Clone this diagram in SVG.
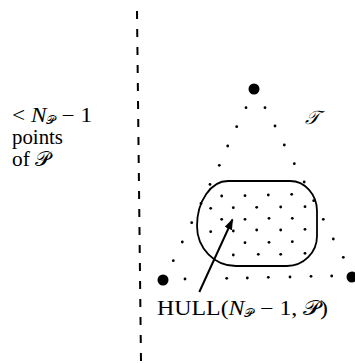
<svg xmlns="http://www.w3.org/2000/svg" width="355" height="364" viewBox="0 0 355 364">
<style>
text{font-family:"Liberation Serif","DejaVu Serif","DejaVu Sans",serif;fill:#000}
.lbl{font-size:20px}
.it{font-style:italic}
.sub{font-size:11px}
.big{fill:#000}
.sd{fill:#000}
.hull{fill:none;stroke:#000;stroke-width:1.8}
.con{stroke:#000;stroke-width:2;fill:none}
</style>
<defs>
<marker id="ah" markerWidth="11" markerHeight="8" refX="10" refY="4" orient="auto" markerUnits="userSpaceOnUse">
<path d="M0,0 L11,4 L0,8 Z" fill="#000"/>
</marker>
<g id="d"><circle r="1.4" class="sd"/></g>
</defs>
<rect width="355" height="364" fill="#fff"/>
<g id="divider">
<line x1="137" y1="11" x2="141" y2="362" stroke="#000" stroke-width="2" stroke-dasharray="8 10"/>
</g>
<g id="left-label">
<text class="lbl" x="12" y="121.5" textLength="80" lengthAdjust="spacingAndGlyphs">&lt; <tspan class="it">N</tspan><tspan class="sub" dy="2">𝒫</tspan><tspan dy="-2"> − 1</tspan></text>
<text class="lbl" x="12" y="144" textLength="51" lengthAdjust="spacingAndGlyphs">points</text>
<text class="lbl" x="12" y="165.5" textLength="38" lengthAdjust="spacingAndGlyphs">of 𝒫</text>
</g>
<g id="triangle">
<circle class="big" cx="254" cy="89" r="5.5"/>
<circle class="big" cx="163" cy="280" r="5.5"/>
<circle class="big" cx="352" cy="277" r="5.5"/>
<g id="edge-dots">
<use href="#d" x="246" y="107.7"/><use href="#d" x="236.7" y="126.7"/><use href="#d" x="227.7" y="146"/><use href="#d" x="219.3" y="165.3"/><use href="#d" x="210" y="184.4"/><use href="#d" x="201" y="203.5"/><use href="#d" x="191.7" y="222.7"/><use href="#d" x="182.3" y="242"/><use href="#d" x="173.3" y="260.7"/>
<use href="#d" x="265" y="107.7"/><use href="#d" x="275" y="126"/><use href="#d" x="284.3" y="145"/><use href="#d" x="294.3" y="163.7"/><use href="#d" x="304.2" y="182"/><use href="#d" x="313.7" y="200.7"/><use href="#d" x="323.3" y="219.3"/><use href="#d" x="333.3" y="239"/><use href="#d" x="343.3" y="257.3"/>
<use href="#d" x="185" y="279"/><use href="#d" x="226.7" y="278.3"/><use href="#d" x="247.3" y="278"/><use href="#d" x="268.3" y="277.3"/><use href="#d" x="290" y="277"/><use href="#d" x="311" y="276.3"/><use href="#d" x="331.7" y="276"/>
</g>
<text class="it" x="305" y="124" font-size="19">𝒯</text>
</g>
<g id="hull">
<path class="hull" d="M228,181 L290,181 A27,30 0 0 1 317,211 L317,236 A30,30 0 0 1 287,266 L236,266 A39,40 0 0 1 197,226 A31,45 0 0 1 228,181 Z"/>
<g id="hull-dots">
<use href="#d" x="221.7" y="196"/><use href="#d" x="245" y="195.7"/><use href="#d" x="268.3" y="195"/><use href="#d" x="291.7" y="194.3"/>
<use href="#d" x="210.7" y="208.3"/><use href="#d" x="233.3" y="207.7"/><use href="#d" x="256.7" y="207.3"/><use href="#d" x="280.7" y="207"/><use href="#d" x="305" y="206.7"/>
<use href="#d" x="221.7" y="219.3"/><use href="#d" x="245" y="219.3"/><use href="#d" x="269" y="218.3"/><use href="#d" x="292.3" y="218.3"/>
<use href="#d" x="210.7" y="231.7"/><use href="#d" x="233.3" y="231"/><use href="#d" x="256.7" y="230"/><use href="#d" x="280.7" y="230"/><use href="#d" x="305" y="229.3"/>
<use href="#d" x="245" y="242.7"/><use href="#d" x="269" y="242.3"/><use href="#d" x="292.3" y="241.7"/>
<use href="#d" x="233.3" y="255"/><use href="#d" x="258.3" y="254.3"/><use href="#d" x="280.7" y="254.3"/><use href="#d" x="305" y="253.3"/>
</g>
</g>
<g id="connectors">
<line class="con" x1="199.3" y1="292" x2="232.5" y2="219.5" marker-end="url(#ah)"/>
</g>
<g id="hull-label">
<text class="lbl" x="157" y="315" textLength="171" lengthAdjust="spacingAndGlyphs">HULL(<tspan class="it">N</tspan><tspan class="sub" dy="2">𝒫</tspan><tspan dy="-2"> − 1, 𝒫)</tspan></text>
</g>
</svg>
